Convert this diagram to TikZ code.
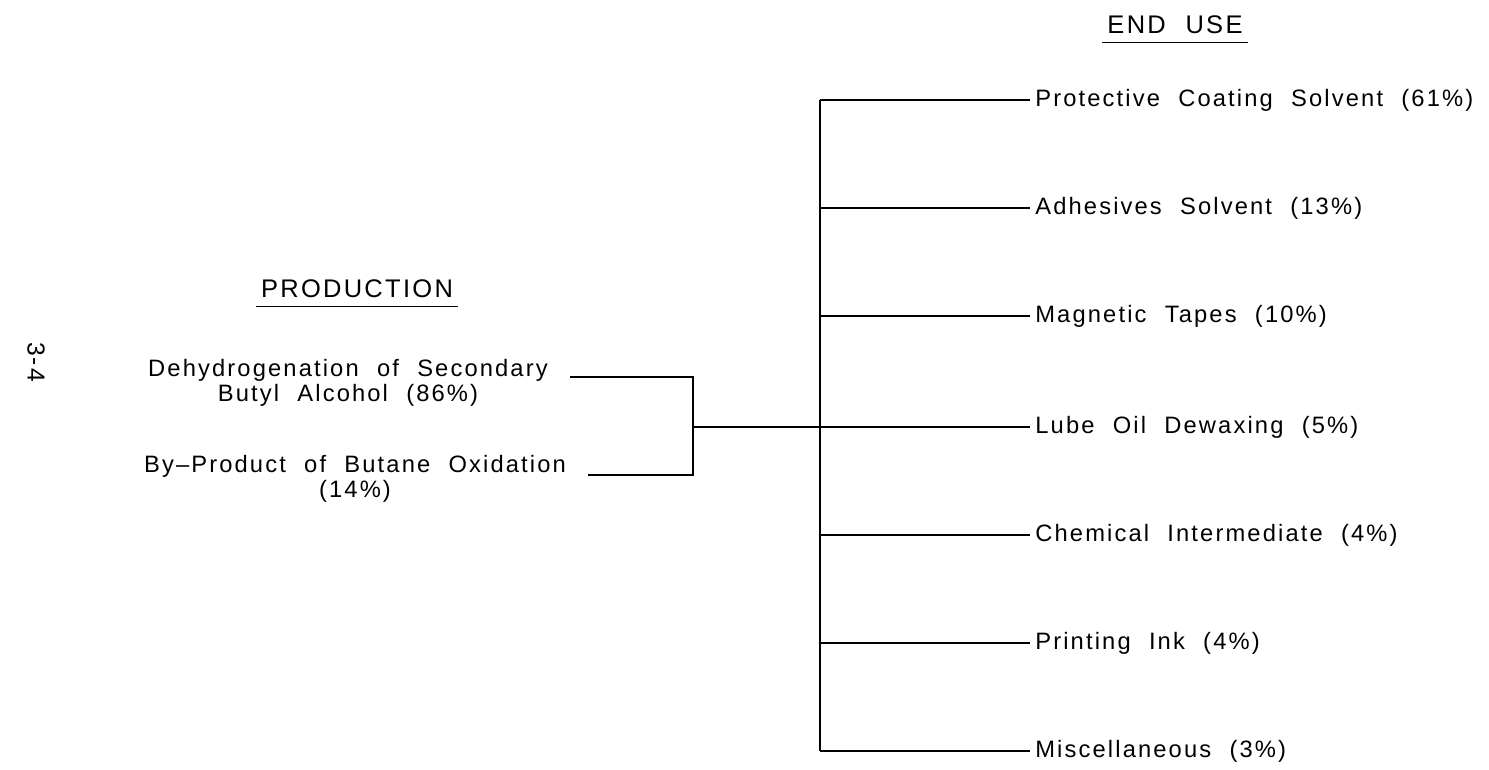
\documentclass[tikz,border=0pt]{standalone}
\usepackage{fontspec}
\setmainfont{Liberation Sans}[LetterSpace=9,WordSpace=2.1]
\usetikzlibrary{positioning}

\begin{document}
\begin{tikzpicture}[
    x=0.02cm, y=-0.02cm,
    link/.style={line width=0.8pt, black},
    head/.style={font=\fontsize{14.5}{18}\selectfont, anchor=base,
                 inner xsep=0.1cm, inner ysep=0.18cm},
    source/.style={font=\fontsize{13.5}{14}\selectfont, align=center, inner sep=0pt},
    enduse/.style={font=\fontsize{13.5}{16}\selectfont, anchor=west, inner sep=0.1cm},
]
    \useasboundingbox (0,0) rectangle (1489,769);

    % headings
    \node[head] (prod) at (357,297) {PRODUCTION};
    \node[head] (use) at (1175,33) {END USE};
    \draw[link] (prod.south west) -- (prod.south east);
    \draw[link] (use.south west) -- (use.south east);

    % page number
    \node[rotate=-90, font=\fontsize{14}{16}\selectfont] (page) at (36,362) {3-4};

    % production side
    \node[source] (dehyd) at (348,383) {Dehydrogenation of Secondary\\Butyl Alcohol (86\%)};
    \node[source] (byprod) at (355,479) {By--Product of Butane Oxidation\\(14\%)};

    \coordinate (brtop) at (693,377);
    \coordinate (brbot) at (693,475);
    \coordinate (brmid) at (693,427);

    \draw[link] ([xshift=0.44cm]dehyd.east |- brtop) -- (brtop) -- (brbot)
        -- ([xshift=0.44cm]byprod.east |- brbot);

    % end use side
    \foreach \y/\name/\txt in {
        100/coat/Protective Coating Solvent (61\%),
        208/adh/Adhesives Solvent (13\%),
        316/tape/Magnetic Tapes (10\%),
        427/lube/Lube Oil Dewaxing (5\%),
        535/chem/Chemical Intermediate (4\%),
        643/ink/Printing Ink (4\%),
        751/misc/Miscellaneous (3\%)} {
        \node[enduse] (\name) at (1030,\y) {\txt};
        \coordinate (j\name) at (820,\y);
        \draw[link] (j\name) -- (\name.west);
    }
    \draw[link] (jcoat) -- (jmisc);
    \draw[link] (brmid) -- (jlube);
\end{tikzpicture}
\end{document}
